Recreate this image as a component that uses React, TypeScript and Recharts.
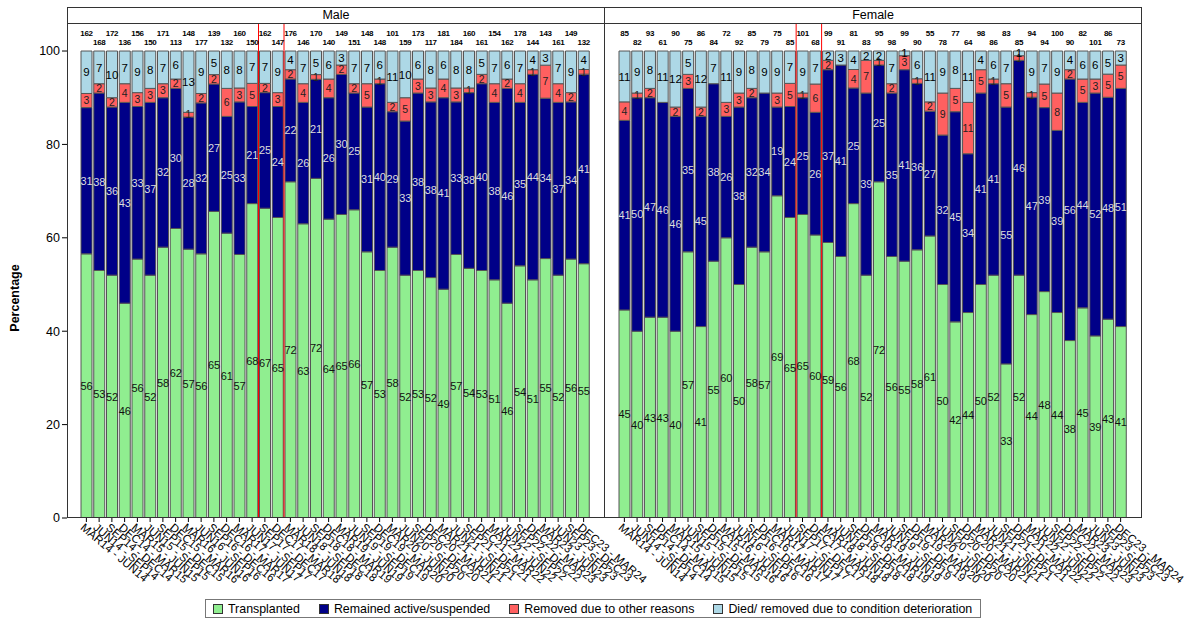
import React from 'react';
import { BarChart, Bar, XAxis, YAxis, LabelList, ReferenceLine } from 'recharts';

const FONT = '"Liberation Sans", Arial, sans-serif';

const periods = [
  'MAR14 - JUN14', 'JUN14 - SEP14', 'SEP14 - DEC14', 'DEC14 - MAR15',
  'MAR15 - JUN15', 'JUN15 - SEP15', 'SEP15 - DEC15', 'DEC15 - MAR16',
  'MAR16 - JUN16', 'JUN16 - SEP16', 'SEP16 - DEC16', 'DEC16 - MAR17',
  'MAR17 - JUN17', 'JUN17 - SEP17', 'SEP17 - DEC17', 'DEC17 - MAR18',
  'MAR18 - JUN18', 'JUN18 - SEP18', 'SEP18 - DEC18', 'DEC18 - MAR19',
  'MAR19 - JUN19', 'JUN19 - SEP19', 'SEP19 - DEC19', 'DEC19 - MAR20',
  'MAR20 - JUN20', 'JUN20 - SEP20', 'SEP20 - DEC20', 'DEC20 - MAR21',
  'MAR21 - JUN21', 'JUN21 - SEP21', 'SEP21 - DEC21', 'DEC21 - MAR22',
  'MAR22 - JUN22', 'JUN22 - SEP22', 'SEP22 - DEC22', 'DEC22 - MAR23',
  'MAR23 - JUN23', 'JUN23 - SEP23', 'SEP23 - DEC23', 'DEC23 - MAR24',
];

// red marker lines sit at the start of these periods
const markerPeriods = ['SEP17 - DEC17', 'MAR18 - JUN18'];

const maleN = [162, 168, 172, 136, 156, 150, 171, 113, 148, 177, 139, 132, 160, 150, 162, 147, 176, 146, 170, 140,
  149, 151, 148, 148, 101, 159, 173, 117, 181, 184, 160, 161, 154, 162, 178, 144, 143, 161, 149, 132];
const maleTransplanted = [56, 53, 52, 46, 56, 52, 58, 62, 57, 56, 65, 61, 57, 68, 67, 65, 72, 63, 72, 64,
  65, 66, 57, 53, 58, 52, 53, 52, 49, 57, 54, 53, 51, 46, 54, 51, 55, 52, 56, 55];
const maleActive = [31, 38, 36, 43, 33, 37, 32, 30, 28, 32, 27, 25, 33, 21, 25, 24, 22, 26, 21, 26,
  30, 25, 31, 40, 29, 33, 38, 38, 41, 33, 38, 40, 38, 46, 35, 44, 34, 37, 34, 41];
const maleRemoved = [3, 2, 2, 4, 3, 3, 3, 2, 1, 2, 2, 6, 3, 5, 2, 3, 2, 4, 1, 4,
  2, 2, 5, 1, 2, 5, 3, 3, 4, 3, 1, 2, 4, 2, 4, 1, 7, 4, 2, 1];
const maleDied = [9, 7, 10, 7, 9, 8, 7, 6, 13, 9, 5, 8, 8, 7, 7, 9, 4, 7, 5, 6,
  3, 7, 7, 6, 11, 10, 6, 8, 6, 8, 8, 5, 7, 6, 7, 4, 3, 7, 9, 4];

const femaleN = [85, 82, 93, 61, 90, 75, 86, 84, 72, 92, 85, 79, 75, 85, 101, 68, 99, 91, 81, 83,
  95, 98, 99, 90, 55, 78, 77, 64, 98, 86, 83, 85, 94, 94, 100, 90, 82, 101, 86, 73];
const femaleTransplanted = [45, 40, 43, 43, 40, 57, 41, 55, 60, 50, 58, 57, 69, 65, 65, 60, 59, 56, 68, 52,
  72, 56, 55, 58, 61, 50, 42, 44, 50, 52, 33, 52, 44, 48, 44, 38, 45, 39, 43, 41];
const femaleActive = [41, 50, 47, 46, 46, 35, 45, 38, 26, 38, 32, 34, 19, 24, 25, 26, 37, 41, 25, 39,
  25, 35, 41, 36, 27, 32, 45, 34, 41, 41, 55, 46, 47, 39, 39, 56, 44, 52, 48, 51];
const femaleRemoved = [4, 1, 2, 0, 2, 3, 2, 0, 3, 3, 2, 0, 3, 5, 1, 6, 2, 0, 4, 7,
  1, 2, 3, 1, 2, 9, 5, 11, 5, 1, 5, 1, 1, 5, 8, 2, 5, 3, 5, 5];
const femaleDied = [11, 9, 8, 11, 12, 5, 12, 7, 11, 9, 8, 9, 9, 7, 9, 7, 2, 3, 4, 2,
  2, 7, 1, 6, 11, 9, 8, 11, 4, 6, 7, 1, 9, 7, 9, 4, 6, 6, 5, 3];

const yTicks = [0, 20, 40, 60, 80, 100];

const series = [
  { key: 'transplanted', name: 'Transplanted', color: '#90ee90', text: '#111', size: 11 },
  { key: 'active', name: 'Remained active/suspended', color: '#000088', text: '#dcdcdc', size: 11 },
  { key: 'removed', name: 'Removed due to other reasons', color: '#ff6060', text: '#222', size: 10.5 },
  { key: 'died', name: 'Died/ removed due to condition deterioration', color: '#add8e6', text: '#000', size: 11.5 },
];

// rounded percentages don't always add to 100, so each bar is rescaled to its own total
const buildRows = (n: number[], tx: number[], act: number[], rem: number[], died: number[]) =>
  periods.map((period, i) => {
    const total = tx[i] + act[i] + rem[i] + died[i];
    return {
      period, n: n[i],
      transplanted: tx[i], active: act[i], removed: rem[i], died: died[i],
      transplantedPct: (tx[i] / total) * 100,
      activePct: (act[i] / total) * 100,
      removedPct: (rem[i] / total) * 100,
      diedPct: (died[i] / total) * 100,
    };
  });

const maleRows = buildRows(maleN, maleTransplanted, maleActive, maleRemoved, maleDied);
const femaleRows = buildRows(femaleN, femaleTransplanted, femaleActive, femaleRemoved, femaleDied);

const segLabel = (fill: string, size: number) => (props: any) => {
  const { x, y, width, height, value } = props;
  if (!value) return null;
  return (
    <text x={x + width / 2} y={y + height / 2} dy="0.36em" textAnchor="middle"
      fontSize={size} fill={fill} fontFamily={FONT}>
      {value}
    </text>
  );
};

const countLabel = (props: any) => {
  const { x, y, width, value, index } = props;
  const lift = index % 2 === 0 ? 15 : 6;
  return (
    <text x={x + width / 2} y={y - lift} textAnchor="middle" fontSize={8}
      fontWeight="bold" fill="#000" fontFamily={FONT} letterSpacing={-0.3}>
      {value}
    </text>
  );
};

const PeriodTick = (props: any) => {
  const { x, y, payload } = props;
  return (
    <g transform={`translate(${x},${y})`}>
      <text transform="rotate(40)" x={-2} y={0} dy={8} textAnchor="start"
        fontSize={11.5} fill="#000" fontFamily={FONT}>
        {payload.value}
      </text>
    </g>
  );
};

function Panel({ rows, width, showY, marginLeft, marginRight }: any) {
  return (
    <BarChart width={width} height={633} data={rows} barSize={11}
      margin={{ top: 23, right: marginRight, bottom: 55, left: marginLeft }}>
      <XAxis dataKey="period" interval={0} height={60} padding={{ left: 13, right: 14 }}
        axisLine={false} tickLine={{ stroke: '#000' }} tickSize={4} tick={<PeriodTick />} />
      <YAxis hide={!showY} width={67} type="number" domain={[0, 106]} ticks={yTicks} allowDataOverflow
        axisLine={false} tickLine={{ stroke: '#000' }} tickSize={5}
        tick={{ fontSize: 12.5, fill: '#000', fontFamily: FONT }} />
      {series.map((s) => (
        <Bar key={s.key} dataKey={`${s.key}Pct`} name={s.name} stackId="a" fill={s.color}
          stroke="#555" strokeWidth={1} isAnimationActive={false}>
          <LabelList dataKey={s.key} content={segLabel(s.text, s.size)} />
          {s.key === 'died' && <LabelList dataKey="n" content={countLabel} />}
        </Bar>
      ))}
      {markerPeriods.map((p) => (
        <ReferenceLine key={p} x={p} position="start" stroke="#ff0000" strokeWidth={1} />
      ))}
    </BarChart>
  );
}

const frame = (left: number, width: number, title: string) => (
  <div style={{
    position: 'absolute', left, top: 7, width, height: 511, boxSizing: 'border-box',
    border: '1px solid #333', pointerEvents: 'none',
  }}>
    <div style={{
      height: 16, boxSizing: 'border-box', borderBottom: '1px solid #333', textAlign: 'center',
      fontSize: 12.5, lineHeight: '15px', fontFamily: FONT, color: '#000',
    }}>{title}</div>
  </div>
);

export default function App() {
  return (
    <div style={{ position: 'absolute', left: 0, top: 0, width: 1192, height: 633, background: '#fff', fontFamily: FONT }}>
      <style>{'svg { overflow: visible; }'}</style>
      <div style={{ position: 'absolute', left: 0, top: 0 }}>
        <Panel rows={maleRows} width={610} showY marginLeft={0} marginRight={6} />
      </div>
      <div style={{ position: 'absolute', left: 599, top: 0 }}>
        <Panel rows={femaleRows} width={548} showY={false} marginLeft={6} marginRight={6} />
      </div>
      {frame(67, 538, 'Male')}
      {frame(604, 538, 'Female')}
      <div style={{
        position: 'absolute', left: 15, top: 298, transform: 'translate(-50%, -50%) rotate(-90deg)',
        fontSize: 12.5, fontWeight: 'bold', whiteSpace: 'nowrap',
      }}>Percentage</div>
      <div style={{
        position: 'absolute', left: 205, top: 599, width: 776, height: 19, boxSizing: 'border-box',
        border: '1px solid #777', display: 'flex', alignItems: 'center', paddingLeft: 7,
        fontSize: 12.4, whiteSpace: 'nowrap',
      }}>
        {series.map((s) => (
          <div key={s.key} style={{ display: 'flex', alignItems: 'center', marginRight: 19 }}>
            <span style={{
              display: 'inline-block', width: 10, height: 10, background: s.color,
              border: '1px solid #333', boxSizing: 'border-box', marginRight: 5,
            }} />
            <span>{s.name}</span>
          </div>
        ))}
      </div>
    </div>
  );
}
